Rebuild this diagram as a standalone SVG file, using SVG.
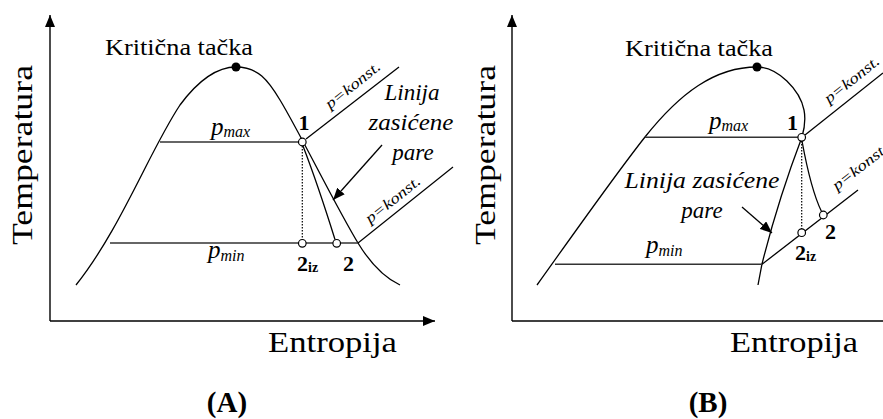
<svg xmlns="http://www.w3.org/2000/svg" width="883" height="419" viewBox="0 0 883 419">
<style>
.ln{fill:none;stroke:#000;stroke-width:1.3}
.hl{fill:none;stroke:#333;stroke-width:1.6}
.dot{fill:none;stroke:#000;stroke-width:1.2;stroke-dasharray:1.6 1.4}
.ax{fill:none;stroke:#000;stroke-width:1.4}
.pt{fill:#fff;stroke:#000;stroke-width:1.2}
.cp{fill:#000}
text{font-family:"Liberation Serif","DejaVu Serif",serif;fill:#000}
.lbl{font-size:23px}
.big{font-size:30px}
.it{font-style:italic}
.b{font-weight:bold}
.pk{font-size:15px;font-style:italic}
</style>
<defs>
<marker id="ah" viewBox="0 0 12 10" refX="12" refY="5" markerWidth="12" markerHeight="10" markerUnits="userSpaceOnUse" orient="auto">
<path d="M0,0 L12,5 L0,10 Z" fill="#000"/>
</marker>
<marker id="axh" viewBox="0 0 12 10" refX="12" refY="5" markerWidth="12" markerHeight="10" markerUnits="userSpaceOnUse" orient="auto">
<path d="M0,0 L12,5 L0,10 Z" fill="#000"/>
</marker>
</defs>

<!-- Panel A -->
<g id="panelA">
<g id="axes-A">
<path class="ax" d="M50,321 L50,15" marker-end="url(#axh)"/>
<path class="ax" d="M50,321 L435,321" marker-end="url(#axh)"/>
<text class="big" transform="translate(32,245) rotate(-90)" textLength="180" lengthAdjust="spacingAndGlyphs">Temperatura</text>
<text class="big" x="268" y="352" textLength="129" lengthAdjust="spacingAndGlyphs">Entropija</text>
<text class="b" x="227" y="412" font-size="29" text-anchor="middle">(A)</text>
</g>
<g id="dome-A">
<path class="ln" d="M76,285 C120,230 150,150 180,105 C200,78 218,67 236,67 C258,67 268,80 280,100 C300,133 335,205 358,243 C372,266 385,278 400,285"/>
<circle class="cp" cx="236" cy="67" r="4.5"/>
<text class="lbl" x="105" y="55" textLength="148" lengthAdjust="spacingAndGlyphs">Kritična tačka</text>
</g>
<g id="pmax-A">
<path class="hl" d="M160,142 L302,142"/>
<text class="it" x="211" y="135"><tspan font-size="25">p</tspan><tspan font-size="16" dy="2">max</tspan></text>
</g>
<g id="pmin-A">
<path class="hl" d="M110,243 L358,243"/>
<text class="it" x="208" y="258"><tspan font-size="25">p</tspan><tspan font-size="16" dy="3">min</tspan></text>
</g>
<g id="pkonst-A">
<path class="ln" d="M306,139 L399,67"/>
<path class="ln" d="M358,243 L453,167"/>
<text class="pk" transform="translate(330,109.5) rotate(-38.5)" textLength="66" lengthAdjust="spacingAndGlyphs">p=konst.</text>
<text class="pk" transform="translate(370,224) rotate(-38.5)" textLength="66" lengthAdjust="spacingAndGlyphs">p=konst.</text>
</g>
<g id="expansion-A">
<path class="dot" d="M302.3,146 L302.3,239.5"/>
<path class="ln" d="M303,146 Q318,185 335,239.5"/>
</g>
<g id="point1-A">
<circle class="pt" cx="302.3" cy="142" r="3.8"/>
<text class="b" x="304" y="130" font-size="22" text-anchor="middle">1</text>
</g>
<g id="point2iz-A">
<circle class="pt" cx="302.3" cy="243.3" r="3.8"/>
<text class="b" x="297" y="271"><tspan font-size="22">2</tspan><tspan font-size="14" dy="1">iz</tspan></text>
</g>
<g id="point2-A">
<circle class="pt" cx="336.7" cy="243.3" r="3.8"/>
<text class="b" x="343" y="271" font-size="22">2</text>
</g>
<g id="label-A">
<text class="it lbl" x="412" y="100" text-anchor="middle">Linija</text>
<text class="it lbl" x="411" y="130" text-anchor="middle" textLength="85" lengthAdjust="spacingAndGlyphs">zasićene</text>
<text class="it lbl" x="413" y="160" text-anchor="middle">pare</text>
</g>
</g>

<!-- Panel B -->
<g id="panelB">
<g id="axes-B">
<path class="ax" d="M512,321 L512,15" marker-end="url(#axh)"/>
<path class="ax" d="M512,321 L883,321"/>
<text class="big" transform="translate(495,245) rotate(-90)" textLength="180" lengthAdjust="spacingAndGlyphs">Temperatura</text>
<text class="big" x="730" y="352" textLength="128" lengthAdjust="spacingAndGlyphs">Entropija</text>
<text class="b" x="708" y="412" font-size="29" text-anchor="middle">(B)</text>
</g>
<g id="dome-B">
<path class="ln" d="M537,285 C575,232 615,175 645,137 C680,93 715,67 757,67 C778,67 800,90 804,110 C806,120 804,130 802,137 Q778,200 762,264 L758,285"/>
<circle class="cp" cx="757" cy="67" r="4.5"/>
<text class="lbl" x="625" y="56" textLength="148" lengthAdjust="spacingAndGlyphs">Kritična tačka</text>
</g>
<g id="pmax-B">
<path class="hl" d="M645,137.3 L802,137.3"/>
<text class="it" x="709" y="129"><tspan font-size="25">p</tspan><tspan font-size="16" dy="2">max</tspan></text>
</g>
<g id="pmin-B">
<path class="hl" d="M555,264.3 L762,264.3"/>
<text class="it" x="646" y="253"><tspan font-size="25">p</tspan><tspan font-size="16" dy="3">min</tspan></text>
</g>
<g id="pkonst-B">
<path class="ln" d="M805,135 L883,73"/>
<path class="ln" d="M762,264.3 L858,190"/>
<text class="pk" transform="translate(829,104) rotate(-38.5)" textLength="66" lengthAdjust="spacingAndGlyphs">p=konst.</text>
<text class="pk" transform="translate(837,191) rotate(-38)" textLength="66" lengthAdjust="spacingAndGlyphs">p=konst.</text>
</g>
<g id="expansion-B">
<path class="dot" d="M801.7,141 L801.7,229"/>
<path class="ln" d="M802,141 Q811,190 821.5,211.5"/>
</g>
<g id="point1-B">
<circle class="pt" cx="801.7" cy="137.3" r="3.8"/>
<text class="b" x="792.5" y="130" font-size="22" text-anchor="middle">1</text>
</g>
<g id="point2iz-B">
<circle class="pt" cx="801.7" cy="232.7" r="3.8"/>
<text class="b" x="795" y="260"><tspan font-size="22">2</tspan><tspan font-size="14" dy="1">iz</tspan></text>
</g>
<g id="point2-B">
<circle class="pt" cx="823.3" cy="215" r="3.8"/>
<text class="b" x="825" y="239" font-size="22">2</text>
</g>
<g id="label-B">
<text class="it lbl" x="702" y="188" text-anchor="middle" textLength="155" lengthAdjust="spacingAndGlyphs">Linija zasićene</text>
<text class="it lbl" x="702" y="218" text-anchor="middle">pare</text>
</g>
</g>

<g id="connectors">
<path class="ln" d="M382,145 L333,200" marker-end="url(#ah)"/>
<path class="ln" d="M742,207 L772,233" marker-end="url(#ah)"/>
</g>
</svg>
